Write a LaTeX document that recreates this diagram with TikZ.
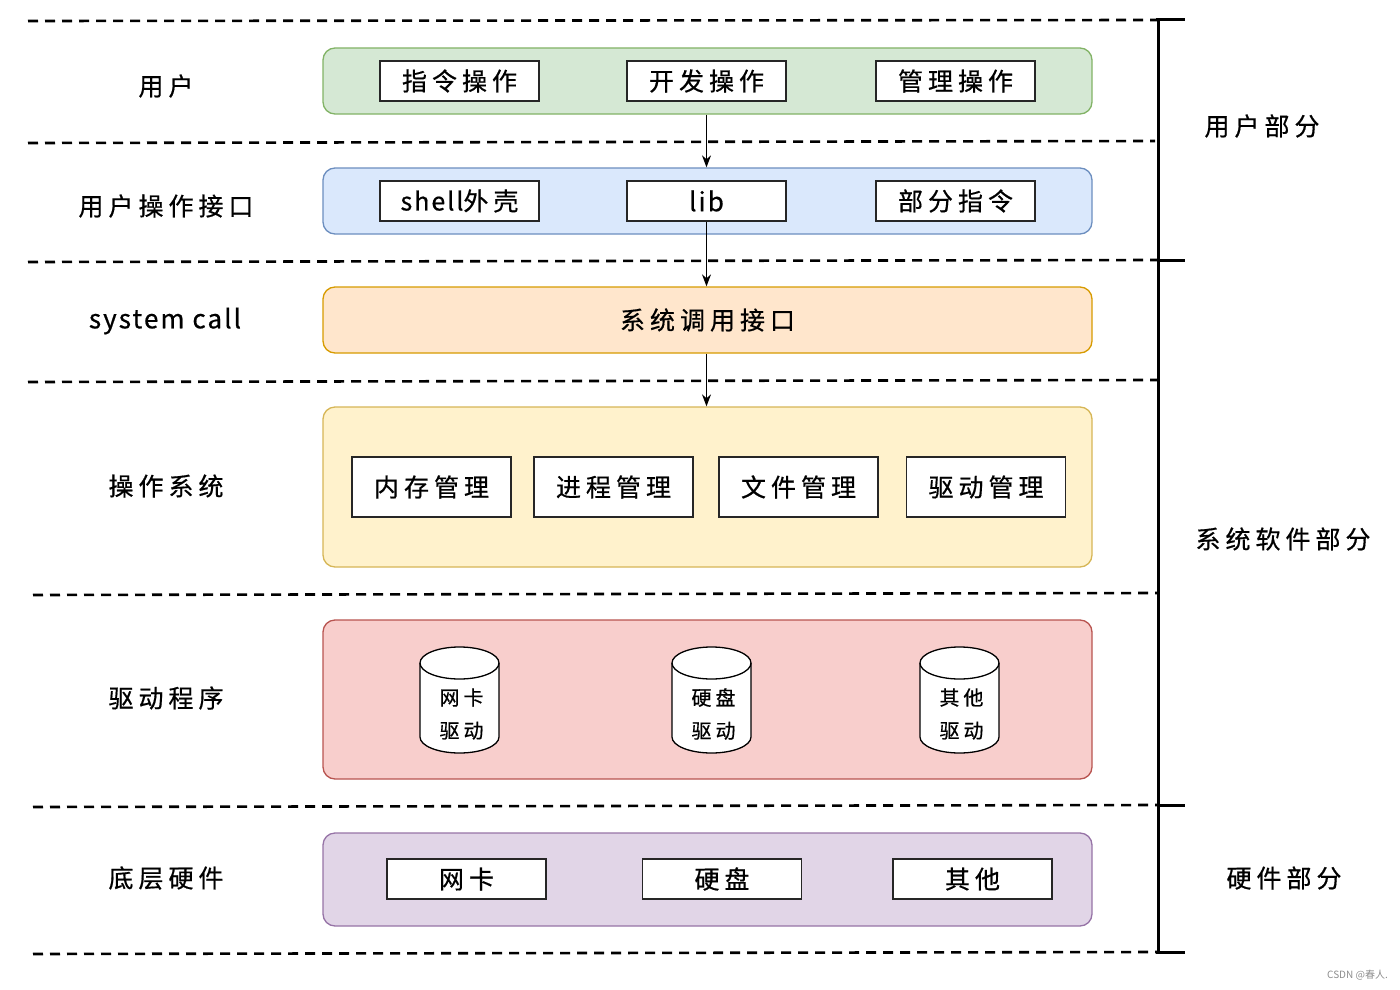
\documentclass[tikz,border=0pt]{standalone}
\usepackage{fontspec}
\setmainfont{Noto Sans CJK SC}
\newfontfamily\cjk[LetterSpace=20,FakeBold=0.6]{Noto Sans CJK SC}
\newfontfamily\lat[LetterSpace=8,FakeBold=0.6]{Noto Sans CJK SC}
\usetikzlibrary{arrows.meta}
\definecolor{gfill}{HTML}{D5E8D4}\definecolor{gline}{HTML}{82B366}
\definecolor{bfill}{HTML}{DAE8FC}\definecolor{bline}{HTML}{6C8EBF}
\definecolor{ofill}{HTML}{FFE6CC}\definecolor{oline}{HTML}{D79B00}
\definecolor{yfill}{HTML}{FFF2CC}\definecolor{yline}{HTML}{D6B656}
\definecolor{rfill}{HTML}{F8CECC}\definecolor{rline}{HTML}{B85450}
\definecolor{pfill}{HTML}{E1D5E7}\definecolor{pline}{HTML}{9673A6}
\begin{document}
\begin{tikzpicture}[x=1pt,y=-1pt,
  sep/.style={line width=2.6pt,dash pattern=on 10pt off 7pt},
  layer/.style={draw=#1line,fill=#1fill,line width=1.3pt,rounded corners=12pt},
  inbox/.style={draw=black!85,fill=white,line width=1.8pt,inner sep=0pt,
     minimum width=159pt,minimum height=40pt,font=\cjk\fontsize{25}{28}\selectfont},
  lbl/.style={font=\cjk\fontsize{25}{28}\selectfont,inner sep=0pt},
  flow/.style={line width=1.3pt,-{Stealth[length=12pt,width=9pt]}},
  brk/.style={line width=3pt},
  cyl/.style={draw=black,fill=white,line width=1.3pt}]
\useasboundingbox (0,0) rectangle (1400,990);
% separators
\draw[sep] (28,21) -- (1158,20);
\draw[sep] (28,143) -- (1155,141);
\draw[sep] (28,262) -- (1158,260);
\draw[sep] (28,382) -- (1158,380);
\draw[sep] (33,595) -- (1158,593);
\draw[sep] (33,807) -- (1158,805);
\draw[sep] (33,954) -- (1158,952);
% bracket
\draw[brk] (1158,20) -- (1158,953);
\draw[brk] (1156,20) -- (1185,20);
\draw[brk] (1158,260) -- (1185,260);
\draw[brk] (1158,805) -- (1185,805);
\draw[brk] (1156,952) -- (1185,952);
% left labels
\node[lbl] (l1) at (166,86) {用户};
\node[lbl] (l2) at (166,206) {用户操作接口};
\node[lbl,font=\lat\fontsize{26}{30}\selectfont] (l3) at (165,321) {system call};
\node[lbl] (l4) at (166,486) {操作系统};
\node[lbl] (l5) at (166,698) {驱动程序};
\node[lbl] (l6) at (166,878) {底层硬件};
% right labels
\node[lbl] (r1) at (1262,126) {用户部分};
\node[lbl] (r2) at (1283,539) {系统软件部分};
\node[lbl] (r3) at (1284,878) {硬件部分};
% layers
\node[layer=g,minimum width=769pt,minimum height=66pt,inner sep=0pt] (green) at (707.5,81) {};
\node[layer=b,minimum width=769pt,minimum height=66pt,inner sep=0pt] (blue) at (707.5,201) {};
\node[layer=o,minimum width=769pt,minimum height=66pt,inner sep=0pt,font=\cjk\fontsize{25}{28}\selectfont] (orange) at (707.5,320) {系统调用接口};
\node[layer=y,minimum width=769pt,minimum height=160pt,inner sep=0pt] (yellow) at (707.5,487) {};
\node[layer=r,minimum width=769pt,minimum height=159pt,inner sep=0pt] (red) at (707.5,699.5) {};
\node[layer=p,minimum width=769pt,minimum height=93pt,inner sep=0pt] (purple) at (707.5,879.5) {};
% row 1
\node[inbox] (u1) at (459.5,81) {指令操作};
\node[inbox] (u2) at (706.5,81) {开发操作};
\node[inbox] (u3) at (955.5,81) {管理操作};
% row 2
\node[inbox] (s1) at (459.5,201) {{\lat shell}外壳};
\node[inbox,font=\lat\fontsize{26}{30}\selectfont] (s2) at (706.5,201) {lib};
\node[inbox] (s3) at (955.5,201) {部分指令};
% OS row
\node[inbox,minimum height=60pt] (o1) at (431.5,487) {内存管理};
\node[inbox,minimum height=60pt] (o2) at (613.5,487) {进程管理};
\node[inbox,minimum height=60pt] (o3) at (798.5,487) {文件管理};
\node[inbox,minimum height=60pt] (o4) at (986,487) {驱动管理};
% cylinders
\foreach \cx/\nm/\t in {459.5/c1/网卡, 711.5/c2/硬盘, 959.5/c3/其他}{
  \draw[cyl] (\cx-39.5,663) -- (\cx-39.5,737)
     arc[start angle=180,end angle=360,x radius=39.5pt,y radius=16pt]
     -- (\cx+39.5,663)
     arc[start angle=0,end angle=180,x radius=39.5pt,y radius=16pt] -- cycle;
  \draw[line width=1.3pt] (\cx-39.5,663) arc[start angle=180,end angle=360,x radius=39.5pt,y radius=16pt];
  \node[lbl,font=\cjk\fontsize{20}{33}\selectfont,align=center] (\nm) at (\cx+2,714) {\t\\驱动};
}
% bottom row
\node[inbox] (h1) at (466.5,879) {网卡};
\node[inbox] (h2) at (722,879) {硬盘};
\node[inbox] (h3) at (972.5,879) {其他};
% arrows
\draw[flow] (green.south -| u2.south) -- (blue.north -| u2.south);
\draw[flow] (s2.south) -- (orange.north -| s2.south);
\draw[flow] (orange.south -| s2.south) -- (yellow.north -| s2.south);
% watermark
\node[font=\fontsize{10}{12}\selectfont,text=black!45,anchor=east,inner sep=0pt] (wm) at (1388,975) {CSDN @春人.};
\end{tikzpicture}
\end{document}
